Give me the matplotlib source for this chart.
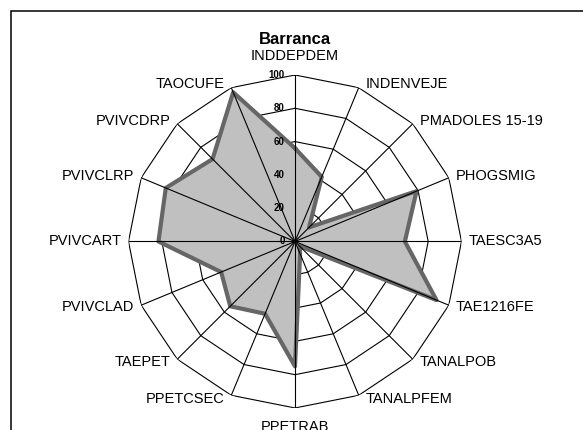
import numpy as np
import matplotlib
matplotlib.use('Agg')
import matplotlib.pyplot as plt
from matplotlib.patches import Rectangle

plt.rcParams['font.family'] = ['Liberation Sans', 'DejaVu Sans']

title = 'Barranca'
categories = ['INDDEPDEM', 'INDENVEJE', 'PMADOLES 15-19', 'PHOGSMIG', 'TAESC3A5',
              'TAE1216FE', 'TANALPOB', 'TANALPFEM', 'PPETRAB', 'PPETCSEC',
              'TAEPET', 'PVIVCLAD', 'PVIVCART', 'PVIVCLRP', 'PVIVCDRP', 'TAOCUFE']
values = [56, 42, 12, 79, 66, 92, 4, 8, 75, 47, 55, 48, 82, 84, 70, 97]
rings = [20, 40, 60, 80, 100]
ring_labels = ['0', '20', '40', '60', '80', '100']

n = len(categories)
theta = np.linspace(0, 2 * np.pi, n, endpoint=False)
theta_closed = np.append(theta, theta[0])

fig = plt.figure(figsize=(5.83, 4.30), dpi=100)
ax = fig.add_axes([0.2204, 0.0512, 0.5712, 0.7744], projection='polar')
ax.set_theta_zero_location('N')
ax.set_theta_direction(-1)
ax.set_ylim(0, 100)
ax.grid(False)
ax.set_xticks([])
ax.set_yticks([])
ax.spines['polar'].set_visible(False)
ax.patch.set_visible(False)

# polygon rings (Excel style)
for r in rings:
    ax.plot(theta_closed, [r] * (n + 1), color='black', lw=0.8, zorder=1)

# data
vals_closed = values + values[:1]
ax.fill(theta_closed, vals_closed, color='#c0c0c0', zorder=2)
ax.plot(theta_closed, vals_closed, color='#666666', lw=3, zorder=3)

# spokes
for t in theta:
    ax.plot([t, t], [0, 100], color='black', lw=0.8, zorder=4)

# radial value labels along the top spoke
for i, lab in enumerate(ring_labels):
    ax.annotate(lab, xy=(0, i * 20), xytext=(-10, 0), textcoords='offset pixels',
                ha='right', va='center', fontsize=7, fontweight='bold', zorder=5)

# category labels
for t, name in zip(theta, categories):
    s, c = np.sin(t), np.cos(t)
    if abs(s) < 0.05:
        ha = 'center'
        va = 'bottom' if c > 0 else 'top'
        off = (0, 12 if c > 0 else -12)
    else:
        ha = 'left' if s > 0 else 'right'
        va = 'center'
        off = (7 * np.sign(s), 4.5 * c)
    ax.annotate(name, xy=(t, 100), xytext=off, textcoords='offset pixels',
                ha=ha, va=va, fontsize=10.5, annotation_clip=False)

fig.text(0.506, 0.907, title, ha='center', va='center', fontsize=12, fontweight='bold')

# chart frame (extends beyond the image on right and bottom)
fig.add_artist(Rectangle((10.5 / 583, -0.2), 1.2, 1.2 - 10.5 / 430 + 0.0,
                         transform=fig.transFigure, fill=False,
                         edgecolor='black', lw=1.1))

plt.savefig('out.png', dpi=100)
